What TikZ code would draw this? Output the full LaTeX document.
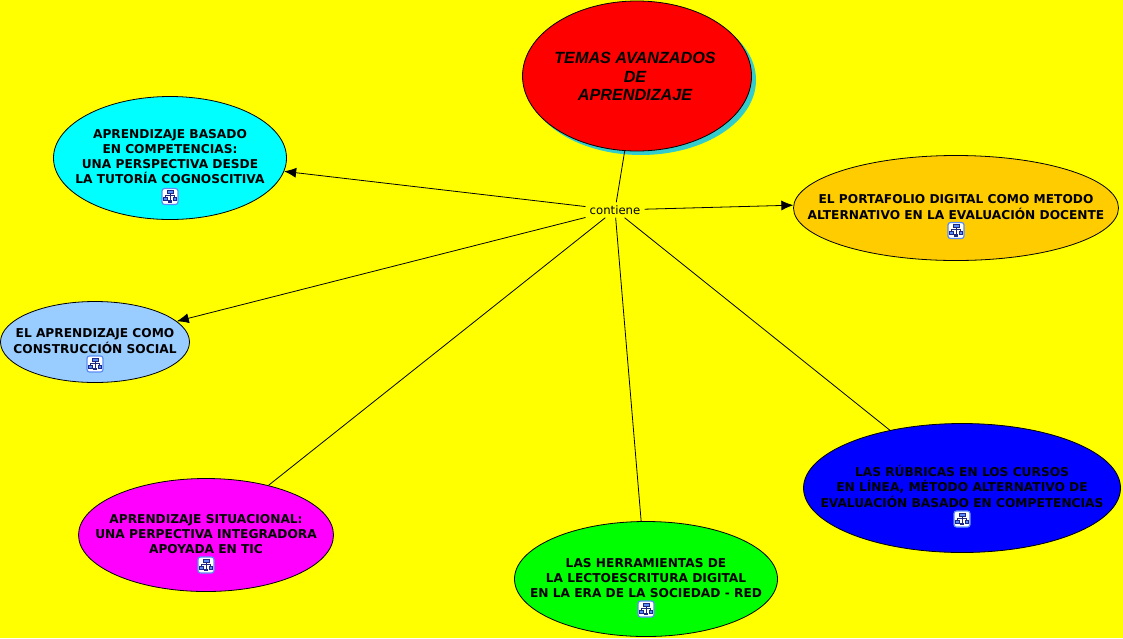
\documentclass[tikz,border=0pt]{standalone}
\usepackage{fontspec}
\usetikzlibrary{shapes.geometric,arrows.meta}
\setmainfont{DejaVu Sans}
\newfontfamily\temasfont{Liberation Sans}
\definecolor{bgyellow}{RGB}{255,255,0}
\definecolor{shadowteal}{RGB}{51,204,204}
\definecolor{temasred}{RGB}{255,0,0}
\definecolor{compcyan}{RGB}{0,255,255}
\definecolor{portorange}{RGB}{255,204,0}
\definecolor{socialblue}{RGB}{153,204,255}
\definecolor{situmagenta}{RGB}{255,0,255}
\definecolor{herrgreen}{RGB}{0,255,0}
\definecolor{rubblue}{RGB}{0,0,255}
\definecolor{iconedge}{RGB}{90,140,245}
\definecolor{iconnavy}{RGB}{30,40,130}
% text sits in a box of no size, so that the ellipse keeps its own size
\newcommand{\topictext}[2][-3.5pt]{\makebox[0pt]{\raisebox{#1}[0pt][0pt]{\begin{tabular}{@{}c@{}}#2\end{tabular}}}}
\newcommand{\temastext}[1]{\makebox[0pt]{\hspace*{-4pt}\raisebox{-7pt}[0pt][0pt]{\begin{tabular}{@{}c@{}}#1\end{tabular}}}}
\tikzset{
  topic/.style={ellipse, draw=black, line width=0.8pt, inner sep=0pt, font=\bfseries\fontsize{12.2}{14.6}\selectfont},
  temastopic/.style={topic, font=\temasfont\bfseries\itshape\fontsize{16.2}{18.5}\selectfont},
  mainlink/.style={line width=0.8pt},
  arrowlink/.style={line width=0.8pt, -{Latex[length=12pt,width=10pt]}},
  mapicon/.pic={
    \fill[white, draw=iconedge, line width=1.2pt, rounded corners=2.5pt] (-8,-8) rectangle (8,8);
    \draw[iconnavy, line width=0.7pt] (0,-3) -- (0,4) (-4.5,1) -- (-4.5,-1) -- (4.5,-1) -- (4.5,1);
    \fill[iconedge, draw=iconnavy, line width=0.7pt] (-3,-6) rectangle (3,-3);
    \fill[iconedge, draw=iconnavy, line width=0.7pt] (-6.2,1) rectangle (-3,4);
    \fill[iconedge, draw=iconnavy, line width=0.7pt] (3,1) rectangle (6.2,4);
    \fill[iconnavy] (-1.8,3.5) rectangle (1.8,6);
  },
}
\begin{document}
\begin{tikzpicture}[x=1pt,y=-1pt]
  \useasboundingbox (0,0) rectangle (1123,638);
  \fill[bgyellow] (0,0) rectangle (1123,638);
  \fill[shadowteal] (641,80) ellipse [x radius=115, y radius=75];
  \node[temastopic, fill=temasred, minimum width=229pt, minimum height=150pt] (temas) at (637,76) {\temastext{TEMAS AVANZADOS\\DE\\APRENDIZAJE}};
  \node[inner xsep=4pt, inner ysep=3pt, font=\fontsize{11.7}{13}\selectfont] (contiene) at (615,210) {contiene};
  \node[topic, fill=compcyan, minimum width=233pt, minimum height=123pt] (competencias) at (170,158) {\topictext{APRENDIZAJE BASADO\\EN COMPETENCIAS:\\UNA PERSPECTIVA DESDE\\LA TUTORÍA COGNOSCITIVA}};
  \node[topic, fill=portorange, minimum width=325pt, minimum height=105pt] (portafolio) at (956,208) {\topictext{EL PORTAFOLIO DIGITAL COMO METODO\\ALTERNATIVO EN LA EVALUACIÓN DOCENTE}};
  \node[topic, fill=socialblue, minimum width=189pt, minimum height=81pt] (social) at (95,342) {\topictext{EL APRENDIZAJE COMO\\CONSTRUCCIÓN SOCIAL}};
  \node[topic, fill=situmagenta, minimum width=255pt, minimum height=113pt] (situacional) at (206,535) {\topictext{APRENDIZAJE SITUACIONAL:\\UNA PERPECTIVA INTEGRADORA\\APOYADA EN TIC}};
  \node[topic, fill=herrgreen, minimum width=263pt, minimum height=115pt] (herramientas) at (646,579) {\topictext{LAS HERRAMIENTAS DE\\LA LECTOESCRITURA DIGITAL\\EN LA ERA DE LA SOCIEDAD - RED}};
  \node[topic, fill=rubblue, minimum width=317pt, minimum height=129pt] (rubricas) at (962,488) {\topictext{LAS RÚBRICAS EN LOS CURSOS\\EN LÍNEA, MÉTODO ALTERNATIVO DE\\EVALUACIÓN BASADO EN COMPETENCIAS}};
  \pic at (170,196.5) {mapicon};
  \pic at (956,230.5) {mapicon};
  \pic at (95,364) {mapicon};
  \pic at (206,565) {mapicon};
  \pic at (646,609) {mapicon};
  \pic at (962,519) {mapicon};
  \draw[mainlink] (temas) -- (contiene);
  \draw[arrowlink] (contiene) -- (competencias);
  \draw[arrowlink] (contiene) -- (portafolio.179.8);
  \draw[arrowlink] (contiene) -- (social);
  \draw[mainlink] (contiene) -- (situacional);
  \draw[mainlink] (contiene) -- (herramientas);
  \draw[mainlink] (contiene) -- (rubricas);
\end{tikzpicture}
\end{document}
